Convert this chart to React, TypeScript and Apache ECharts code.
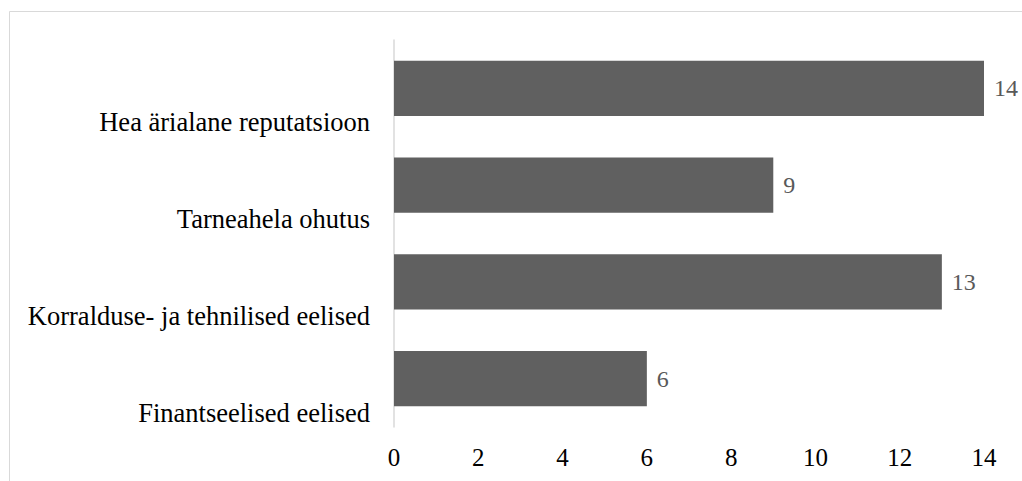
import React, { useEffect, useRef } from "react";
import * as echarts from "echarts";

const categories = [
  "Hea ärialane reputatsioon",
  "Tarneahela ohutus",
  "Korralduse- ja tehnilised eelised",
  "Finantseelised eelised",
];
const values = [14, 9, 13, 6];
const xTicks = { min: 0, max: 14, interval: 2 };

const FONT = "Times New Roman, Times, serif";

export default function App() {
  const ref = useRef<HTMLDivElement>(null);

  useEffect(() => {
    if (!ref.current) return;
    const chart = echarts.init(ref.current, undefined, { renderer: "svg" });
    chart.setOption({
      animation: false,
      backgroundColor: "#ffffff",
      graphic: [
        {
          type: "rect",
          shape: { x: 9.5, y: 11.5, width: 1100, height: 600 },
          style: { fill: "none", stroke: "#d9d9d9", lineWidth: 1 },
          silent: true,
        },
      ],
      grid: { left: 394, top: 40, right: 38, bottom: 54 },
      xAxis: {
        type: "value",
        min: xTicks.min,
        max: xTicks.max,
        interval: xTicks.interval,
        axisLine: { show: false },
        axisTick: { show: false },
        splitLine: { show: false },
        axisLabel: {
          margin: 18,
          fontFamily: FONT,
          fontSize: 25,
          color: "#000000",
        },
      },
      yAxis: {
        type: "category",
        data: categories,
        inverse: true,
        axisLine: { show: true, lineStyle: { color: "#d9d9d9", width: 1.5 } },
        axisTick: { show: false },
        axisLabel: {
          margin: 24,
          fontFamily: FONT,
          fontSize: 26.5,
          color: "#000000",
          verticalAlign: "top",
          lineHeight: 68,
        },
      },
      series: [
        {
          type: "bar",
          data: values,
          barCategoryGap: "43%",
          itemStyle: { color: "#606060" },
          label: {
            show: true,
            position: "right",
            distance: 10,
            fontFamily: FONT,
            fontSize: 24,
            color: "#595959",
          },
        },
      ],
    });
    return () => chart.dispose();
  }, []);

  return (
    <div
      ref={ref}
      style={{ position: "fixed", left: 0, top: 0, width: 1022, height: 481 }}
    />
  );
}
